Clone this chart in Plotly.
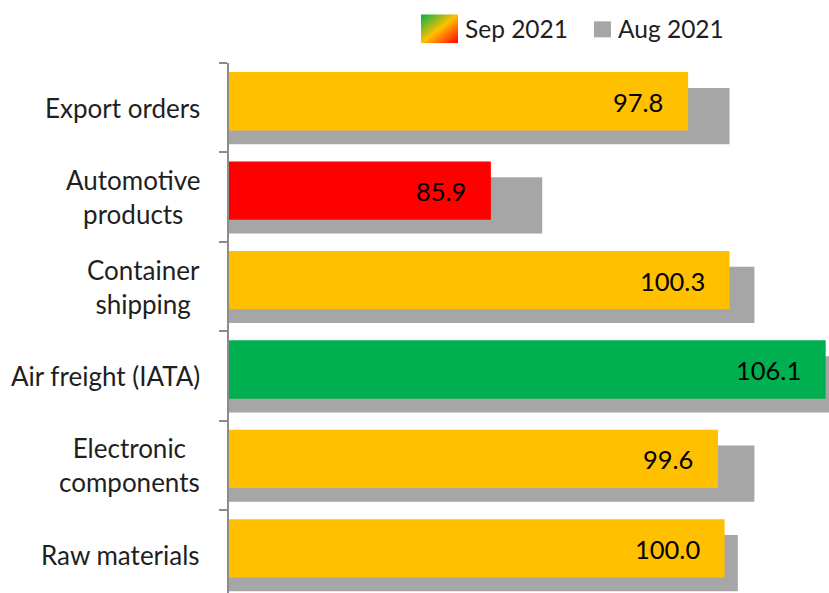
import base64
import plotly.graph_objects as go

# ---- data ----
categories = ["Export orders", "Automotive<br>products", "Container<br>shipping",
              "Air freight (IATA)", "Electronic<br>components", "Raw materials"]
sep_2021 = [97.8, 85.9, 100.3, 106.1, 99.6, 100.0]
aug_2021 = [100.3, 89.0, 101.8, 107.0, 101.8, 100.8]
sep_colors = ["#FFC000", "#FF0000", "#FFC000", "#00B050", "#FFC000", "#FFC000"]
series_names = ["Sep 2021", "Aug 2021"]

W, H = 829, 593
L, T = 229, 62.7
PW, PH = W - L, H - T
FONT = "Lato"
TXT = "#1F1F1F"

def px(x):
    return (x - L) / PW

def py(y):
    return (H - y) / PH

fig = go.Figure()
fig.add_trace(go.Bar(
    y=categories, x=aug_2021, orientation="h", name=series_names[1],
    marker=dict(color="#A6A6A6", line=dict(width=0)),
    width=0.629, offset=-0.221, showlegend=False, hoverinfo="x+y",
))
fig.add_trace(go.Bar(
    y=categories, x=sep_2021, orientation="h", name=series_names[0],
    marker=dict(color=sep_colors, line=dict(width=0)),
    width=0.652, offset=-0.398, showlegend=False, hoverinfo="x+y",
))

annotations = []
# value labels
for c, v in zip(categories, sep_2021):
    annotations.append(dict(
        x=v, y=c, xref="x", yref="y", text=f"{v:.1f}", showarrow=False,
        xanchor="right", yanchor="middle", xshift=-23, yshift=6,
        font=dict(family=FONT, size=25.5, color="#000000"),
    ))
# category labels (centered multi-line)
for c in categories:
    annotations.append(dict(
        x=0, y=c, xref="paper", yref="y", text=c, showarrow=False,
        xanchor="right", yanchor="middle", align="center", xshift=-27,
        font=dict(family=FONT, size=26, color=TXT),
    ))
# legend texts
annotations.append(dict(
    x=px(463), y=py(28.5), xref="paper", yref="paper", text=series_names[0],
    showarrow=False, xanchor="left", yanchor="middle",
    font=dict(family=FONT, size=24.5, color=TXT),
))
annotations.append(dict(
    x=px(616), y=py(28.5), xref="paper", yref="paper", text=series_names[1],
    showarrow=False, xanchor="left", yanchor="middle",
    font=dict(family=FONT, size=24.5, color=TXT),
))

svg = ('<svg xmlns="http://www.w3.org/2000/svg" width="37" height="29" viewBox="0 0 37 29" preserveAspectRatio="none">'
       '<defs><linearGradient id="g" x1="0" y1="0" x2="1" y2="1">'
       '<stop offset="0" stop-color="#00B050"/><stop offset="0.5" stop-color="#FFC000"/>'
       '<stop offset="1" stop-color="#FF0000"/></linearGradient></defs>'
       '<rect width="37" height="29" fill="url(#g)"/></svg>')
src = "data:image/svg+xml;base64," + base64.b64encode(svg.encode()).decode()

fig.update_layout(
    width=W, height=H,
    margin=dict(l=L, r=0, t=T, b=0, pad=0),
    paper_bgcolor="white", plot_bgcolor="white",
    barmode="overlay", showlegend=False,
    font=dict(family=FONT, size=24, color=TXT),
    xaxis=dict(range=[70.1, 106.3], visible=False, fixedrange=True),
    yaxis=dict(
        type="category", range=[-0.5 + PH / 89.46, -0.5],
        showline=True, linecolor="#8C8C8C", linewidth=2,
        ticks="outside", tickson="boundaries", ticklen=8, tickwidth=2, tickcolor="#8C8C8C",
        showticklabels=False, showgrid=False, zeroline=False, fixedrange=True,
    ),
    annotations=annotations,
    images=[dict(source=src, xref="paper", yref="paper", x=px(421), y=py(14),
                 sizex=37 / PW, sizey=29 / PH, xanchor="left", yanchor="top",
                 sizing="stretch", layer="above")],
    shapes=[dict(type="rect", xref="paper", yref="paper",
                 x0=px(594), x1=px(611), y0=py(37), y1=py(21),
                 fillcolor="#A6A6A6", line=dict(width=0))],
)

fig.write_html("out.html")
